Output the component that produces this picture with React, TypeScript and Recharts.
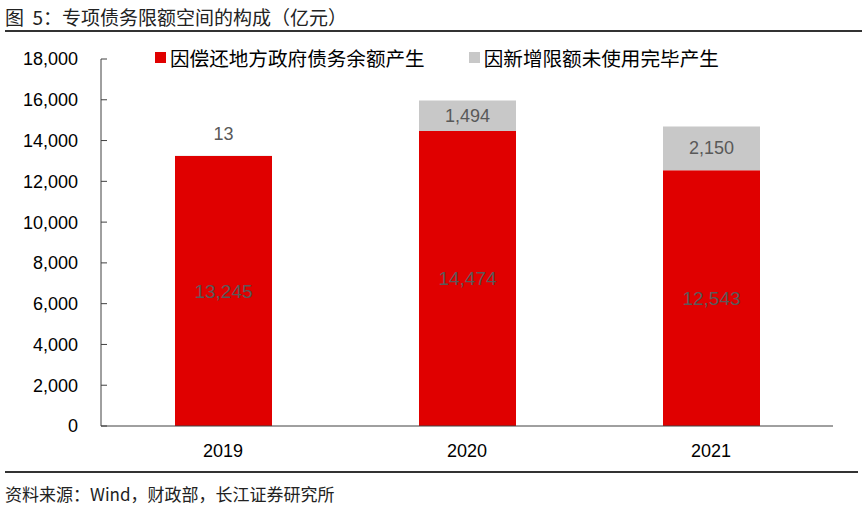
import { BarChart, Bar, XAxis, YAxis, LabelList } from 'recharts';

const years = ['2019', '2020', '2021'];
const repaid = [13245, 14474, 12543];
const unused = [13, 1494, 2150];
const yTicks = [0, 2000, 4000, 6000, 8000, 10000, 12000, 14000, 16000, 18000];
const boundaries = [0, 1, 2, 3];

const seriesNames = ['因偿还地方政府债务余额产生', '因新增限额未使用完毕产生'];
const RED = '#E00000';
const GREY = '#C8C8C8';

const data = years.map((y, i) => ({ year: y, repaid: repaid[i], unused: unused[i] }));

const cjk = '"Noto Sans CJK SC", "Noto Sans", sans-serif';
const latin = '"Liberation Sans", Arial, sans-serif';

const fmt = (v: number) => v.toLocaleString('en-US');

function UnusedLabel(props: any) {
  const { x, y, width, height, value } = props;
  const small = height < 22;
  return (
    <text
      x={x + width / 2}
      y={small ? y - 22 : y + height / 2}
      textAnchor="middle"
      dominantBaseline="central"
      fill="#595959"
      fontSize={18}
      fontFamily={latin}
    >
      {fmt(value)}
    </text>
  );
}

function LegendBox() {
  const colors = [RED, GREY];
  return (
    <div style={{ position: 'absolute', left: 155, top: 43, display: 'flex', fontFamily: cjk, fontSize: 19.6, color: '#000' }}>
      {seriesNames.map((n, i) => (
        <div key={n} style={{ display: 'flex', alignItems: 'center', marginRight: 44 }}>
          <span style={{ width: 11, height: 11, background: colors[i], marginRight: 4, display: 'inline-block' }} />
          <span>{n}</span>
        </div>
      ))}
    </div>
  );
}

export default function App() {
  return (
    <div style={{ position: 'absolute', left: 0, top: 0, width: 862, height: 508, background: '#fff' }}>
      <div style={{ position: 'absolute', left: 5, top: 3, fontFamily: cjk, fontSize: 19, color: '#222', whiteSpace: 'pre' }}>
        图  5：专项债务限额空间的构成（亿元）
      </div>
      <div style={{ position: 'absolute', left: 5, right: 0, top: 30, height: 2, background: '#333' }} />
      <BarChart
        width={862}
        height={508}
        data={data}
        margin={{ top: 59, right: 29, left: 21, bottom: 42 }}
      >
        <XAxis
          xAxisId="b"
          type="number"
          domain={[0, 3]}
          ticks={boundaries}
          allowDataOverflow
          height={0}
          tick={false}
          axisLine={false}
          tickLine={{ stroke: '#404040' }}
          mirror
          tickSize={6}
        />
        <XAxis
          xAxisId="cat"
          dataKey="year"
          height={40}
          tickLine={false}
          axisLine={{ stroke: '#404040' }}
          tickMargin={12}
          tick={{ fill: '#000', fontSize: 18, fontFamily: latin }}
        />
        <YAxis
          width={80}
          domain={[0, 18000]}
          ticks={yTicks}
          interval={0}
          tickFormatter={fmt}
          axisLine={{ stroke: '#404040' }}
          tickLine={{ stroke: '#404040' }}
          tickSize={-6}
          tickMargin={29}
          tick={{ fill: '#000', fontSize: 18, fontFamily: latin }}
        />
        <Bar xAxisId="cat" dataKey="repaid" stackId="s" fill={RED} barSize={97} isAnimationActive={false} name={seriesNames[0]}>
          <LabelList dataKey="repaid" position="center" fill="#595959" fontSize={19} fontFamily={latin} formatter={(v: any) => fmt(v)} />
        </Bar>
        <Bar xAxisId="cat" dataKey="unused" stackId="s" fill={GREY} barSize={97} isAnimationActive={false} name={seriesNames[1]}>
          <LabelList dataKey="unused" content={<UnusedLabel />} />
        </Bar>
      </BarChart>
      <LegendBox />
      <div style={{ position: 'absolute', left: 5, right: 4, top: 471, height: 2, background: '#333' }} />
      <div style={{ position: 'absolute', left: 5, top: 481, fontFamily: cjk, fontSize: 17, color: '#222' }}>
        资料来源：Wind，财政部，长江证券研究所
      </div>
    </div>
  );
}
